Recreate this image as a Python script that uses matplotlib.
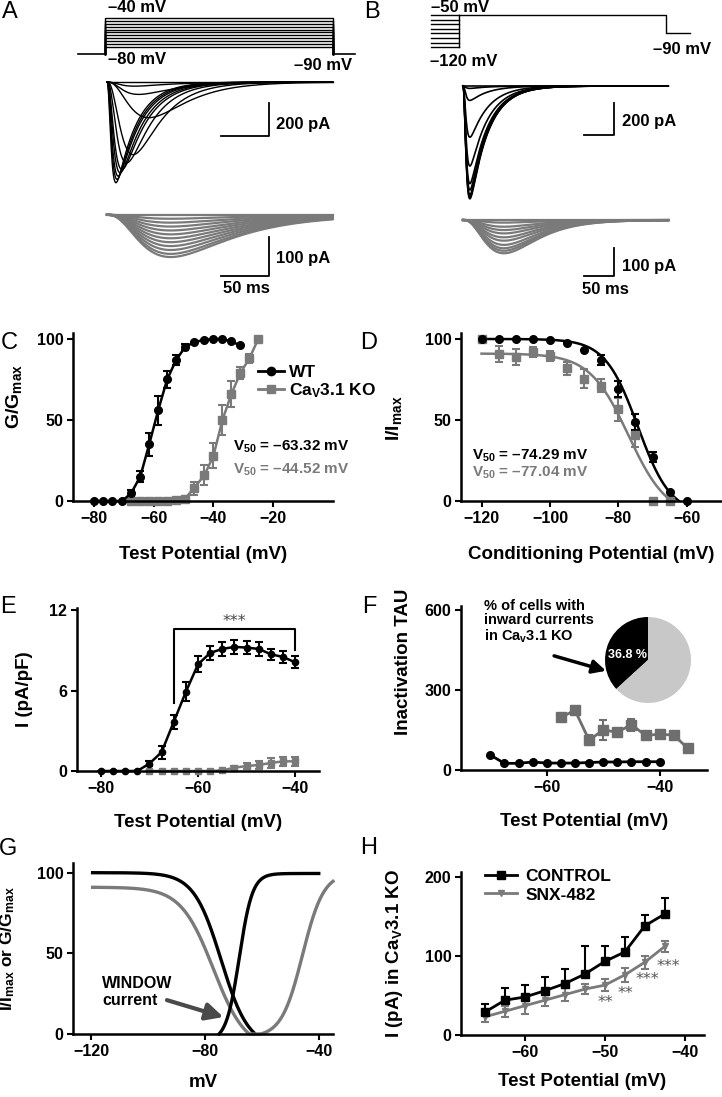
import numpy as np
import matplotlib
matplotlib.use('Agg')
import matplotlib.pyplot as plt
from matplotlib.lines import Line2D

plt.rcParams.update({
    'font.family': ['Liberation Sans', 'DejaVu Sans'],
    'font.weight': 'bold',
    'axes.labelweight': 'bold',
    'mathtext.fontset': 'custom',
    'mathtext.rm': 'Liberation Sans:bold',
    'mathtext.bf': 'Liberation Sans:bold',
    'mathtext.default': 'bf',
})

BLACK = '#000000'
GRAY = '#7a7a7a'
LIGHT = '#c8c8c8'

# ---------------- data ----------------
# A: activation protocol and currents (amplitudes in pA, kinetics in ms)
a_steps = [-80, -76, -72, -68, -64, -60, -56, -52, -48, -44, -40]
a_wt_amp = [0, 25, 75, 216, 440, 490, 530, 550, 570, 590, 610]
a_wt_tm = [12, 12, 15, 28, 14, 9, 6, 5, 4, 3.5, 3]
a_wt_th = [40, 40, 40, 35, 28, 26, 25, 24, 23, 22, 21]
a_ko_amp = [0, 10, 20, 30, 40, 50, 60, 70, 80, 90, 100, 108]
a_ko_tm, a_ko_th = 38, 60

# B: inactivation protocol and currents
b_cond = [-120, -110, -100, -90, -80, -70, -60, -50]
b_wt_amp = [0, 15, 90, 320, 500, 610, 650, 680, 695, 705]
b_wt_tm, b_wt_th = 3.5, 30
b_ko_amp = [0, 9.5, 24, 36, 48, 62, 74, 89, 101, 110, 119]
b_ko_tm, b_ko_th = 55, 45

# C: activation G/Gmax
c_x_wt = [-80, -77, -74, -70.5, -67.5, -64.5, -61.5, -58.5, -55.5, -52.5, -49.5, -46.5, -43, -40, -37, -34, -31]
c_wt = [0, 0, 0, 0, 5, 15, 35, 56, 75, 87, 95, 98, 99.5, 100, 100, 98.5, 96]
c_wt_err = [0, 0, 0, 0, 2, 3.5, 7, 9, 5, 3, 2, 0, 0, 0, 0, 0, 0]
c_x_ko = [-67.5, -64.5, -61.5, -58.5, -55.5, -52.5, -49.5, -46.5, -43, -40, -37, -34, -31, -28, -25]
c_ko = [0, 0, 0, 0, 0, 0.5, 1.5, 8, 16, 28, 50, 66, 79, 88, 100]
c_ko_err = [0, 0, 0, 0, 0, 1, 1.5, 4, 6, 7.5, 9, 8, 4, 3, 1]

# D: steady-state inactivation I/Imax
d_x_wt = [-120, -115, -110, -105, -100, -95, -90, -85, -80, -75, -70, -65, -60]
d_wt = [100, 100, 100, 100, 99.5, 97.5, 93, 87, 69, 49, 27, 5.5, 0]
d_wt_err = [0, 0, 0, 0, 0, 0, 0, 3, 5, 5, 3, 0, 0]
d_x_ko = [-120, -115, -110, -105, -100, -95, -90, -85, -80, -75, -70, -65]
d_ko = [100, 90.5, 89, 92, 89.5, 82, 75.5, 71, 56.5, 40.5, 0, 0]
d_ko_err = [0, 5, 5, 3, 3, 4, 6, 4, 7, 7, 0, 0]
# Boltzmann fit parameters: top, V50, slope, bottom
d_fit_wt = (100, -74.29, 4.8, -8.2)
d_fit_ko = (91, -77.04, 5.7, -10)
g_act_wt = (99.5, -67.9, 2.3, -4.5)
g_act_ko = (100, -45.7, 3.7, -1.9)

# E: current density
e_x_wt = [-80, -77.5, -75, -72.5, -70, -67.5, -65, -62.5, -60, -57.5, -55, -52.5, -50, -47.5, -45, -42.5, -40]
e_wt = [0, 0, 0, 0, 0.55, 1.4, 3.65, 5.9, 7.95, 8.8, 9.1, 9.25, 9.2, 9.1, 8.7, 8.5, 8.1]
e_wt_err = [0, 0, 0, 0, 0.2, 0.5, 0.55, 0.7, 0.6, 0.5, 0.5, 0.5, 0.5, 0.5, 0.4, 0.45, 0.45]
e_x_ko = [-70, -67.5, -65, -62.5, -60, -57.5, -55, -52.5, -50, -47.5, -45, -42.5, -40]
e_ko = [0, 0, 0, 0, 0, 0, 0.05, 0.25, 0.37, 0.45, 0.6, 0.72, 0.72]
e_ko_err = [0, 0, 0, 0, 0, 0, 0, 0.1, 0.25, 0.3, 0.35, 0.35, 0.35]

# F: inactivation tau
f_x_wt = [-70, -67.5, -65, -62.5, -60, -57.5, -55, -52.5, -50, -47.5, -45, -42.5, -40]
f_wt = [56, 25, 25, 30, 26, 26, 26, 28, 30, 30, 31, 31, 31]
f_x_ko = [-57.5, -55, -52.5, -50, -47.5, -45, -42.5, -40, -37.5, -35]
f_ko = [197, 224, 112, 150, 142, 170, 130, 134, 131, 81]
f_ko_err = [0, 0, 20, 37, 13, 22, 5, 10, 5, 0]
pie_vals = [36.8, 63.2]

# H: SNX-482
h_x = [-65, -62.5, -60, -57.5, -55, -52.5, -50, -47.5, -45, -42.5]
h_ctrl = [29, 44, 48, 56, 65, 77, 93, 105, 138, 153]
h_ctrl_err = [10, 16, 15, 17, 19, 35, 20, 19, 14, 20]
h_snx = [23, 30, 37, 44, 51, 58, 63, 76, 92, 112]
h_snx_err = [7, 7, 10, 7, 8, 6, 8, 9, 8, 7]

# ---------------- helpers ----------------
W, H = 722, 1097
fig = plt.figure(figsize=(W / 100, H / 100), dpi=100)


def px_axes(l, t, r, b):
    return fig.add_axes([l / W, 1 - b / H, (r - l) / W, (b - t) / H])


def ptext(x, y, s, **kw):
    kw.setdefault('va', 'center')
    kw.setdefault('fontsize', 12)
    fig.text(x / W, 1 - y / H, s, **kw)


def style(ax):
    for s in ['top', 'right']:
        ax.spines[s].set_visible(False)
    for s in ['left', 'bottom']:
        ax.spines[s].set_linewidth(1.8)
    ax.tick_params(width=1.5, length=4, labelsize=11.5, pad=3)


def shape(t, amp, tm, th):
    s = (1 - np.exp(-t / tm)) ** 3 * np.exp(-t / th)
    return -amp * s / s.max()


def inact(v, p):
    top, v50, k, bot = p
    return bot + (top - bot) / (1 + np.exp((v - v50) / k))


def act(v, p):
    top, v50, k, bot = p
    return bot + (top - bot) / (1 + np.exp((v50 - v) / k))


# ---------------- A ----------------
axAp = px_axes(70, 0, 360, 70)
axAp.set_xlim(-36.5, 265.6)
axAp.set_ylim(-111.7, -15.2)
axAp.axis('off')
axAp.plot([-28, 0], [-90, -90], color=BLACK, lw=1.2)
axAp.plot([237, 260], [-90, -90], color=BLACK, lw=1.2)
for lv in a_steps:
    axAp.plot([0, 0, 237, 237], [-90, lv, lv, -90], color=BLACK, lw=1.0)

ta = np.linspace(0, 235, 700)
axAw = px_axes(100, 70, 345, 200)
axAw.set_xlim(-7.3, 248)
axAw.set_ylim(-715, 73)
axAw.axis('off')
for amp, tm, th in zip(a_wt_amp, a_wt_tm, a_wt_th):
    axAw.plot(ta, shape(ta, amp, tm, th), color=BLACK, lw=1.0)
axAw.plot([119, 169, 169], [-327, -327, -127], color=BLACK, lw=1.3)

axAk = px_axes(100, 200, 345, 300)
axAk.set_xlim(-7.3, 248)
axAk.set_ylim(-218, 38)
axAk.axis('off')
for amp in a_ko_amp:
    axAk.plot(ta, shape(ta, amp, a_ko_tm, a_ko_th), color=GRAY, lw=1.6)
axAk.plot([119, 169, 169], [-156, -156, -56], color=BLACK, lw=1.3)

ptext(108, 8, '–40 mV')
ptext(108, 60, '–80 mV')
ptext(352, 65, '–90 mV', ha='right')
ptext(276, 124, '200 pA')
ptext(276, 258, '100 pA')
ptext(246, 288, '50 ms', ha='center')

# ---------------- B ----------------
axBp = px_axes(425, 0, 700, 70)
axBp.set_xlim(-56.7, 401.7)
axBp.set_ylim(-170, -17.2)
axBp.axis('off')
for lv in b_cond:
    axBp.plot([-47, 0], [lv, lv], color=BLACK, lw=1.0)
axBp.plot([0, 0], [-120, -50], color=BLACK, lw=1.0)
axBp.plot([0, 345, 345, 385], [-50, -50, -90, -90], color=BLACK, lw=1.0)

tb = np.linspace(0, 342, 800)
axBw = px_axes(455, 70, 700, 210)
axBw.set_xlim(-13.3, 395)
axBw.set_ylim(-775, 100)
axBw.axis('off')
for amp in b_wt_amp:
    axBw.plot(tb, shape(tb, amp, b_wt_tm, b_wt_th), color=BLACK, lw=1.2)
axBw.plot([202, 252, 252], [-306, -306, -106], color=BLACK, lw=1.3)

axBk = px_axes(455, 205, 700, 300)
axBk.set_xlim(-13.3, 395)
axBk.set_ylim(-286, 53.6)
axBk.axis('off')
for amp in b_ko_amp:
    axBk.plot(tb, shape(tb, amp, b_ko_tm, b_ko_th), color=GRAY, lw=1.6)
axBk.plot([202, 252, 252], [-200, -200, -100], color=BLACK, lw=1.3)

ptext(431, 8, '–50 mV')
ptext(430, 62, '–120 mV')
ptext(711, 50, '–90 mV', ha='right')
ptext(622, 122, '200 pA')
ptext(622, 266, '100 pA')
ptext(605, 290, '50 ms', ha='center')

# ---------------- C ----------------
axC = px_axes(73, 332.5, 333, 501)
style(axC)
axC.set_xlim(-87, 0)
axC.set_ylim(0, 104)
axC.errorbar(c_x_ko, c_ko, yerr=c_ko_err, fmt='s-', color=GRAY, ms=5.5, lw=1.8,
             elinewidth=1.5, capsize=3, capthick=1.5, clip_on=False)
axC.errorbar(c_x_wt, c_wt, yerr=c_wt_err, fmt='o-', color=BLACK, ms=5.5, lw=1.8,
             elinewidth=1.5, capsize=3, capthick=1.5, clip_on=False)
axC.set_xticks([-80, -60, -40, -20])
axC.set_yticks([0, 50, 100])
axC.set_xlabel('Test Potential (mV)', fontsize=13.5)
axC.set_ylabel('G/G$_{max}$', fontsize=14)
axC.yaxis.set_label_coords(-0.19, 0.62)
axC.xaxis.set_label_coords(0.5, -0.265)
axC.legend(handles=[Line2D([], [], color=BLACK, marker='o', ms=6, lw=2),
                    Line2D([], [], color=GRAY, marker='s', ms=6, lw=2)],
           labels=['WT', 'Ca$_{V}$3.1 KO'], loc='upper left', bbox_to_anchor=(0.71, 0.81),
           frameon=False, fontsize=12.5, handlelength=1.5, handletextpad=0.3,
           labelspacing=0.1, borderaxespad=0, borderpad=0)
axC.text(-33.4, 33.3, 'V$_{50}$ = –63.32 mV', color=BLACK, fontsize=11, va='center')
axC.text(-33.4, 19, 'V$_{50}$ = –44.52 mV', color=GRAY, fontsize=11, va='center')

# ---------------- D ----------------
axD = px_axes(461, 332.5, 721, 501)
style(axD)
axD.set_xlim(-126, -50)
axD.set_ylim(0, 104)
vv = np.linspace(-120, -55, 400)
for p, col in [(d_fit_ko, GRAY), (d_fit_wt, BLACK)]:
    yy = inact(vv, p)
    m = yy >= 0
    axD.plot(vv[m], yy[m], color=col, lw=1.8)
axD.errorbar(d_x_ko, d_ko, yerr=d_ko_err, fmt='s', color=GRAY, ms=5.5,
             elinewidth=1.5, capsize=3, capthick=1.5, clip_on=False)
axD.errorbar(d_x_wt, d_wt, yerr=d_wt_err, fmt='o', color=BLACK, ms=5.5,
             elinewidth=1.5, capsize=3, capthick=1.5, clip_on=False)
axD.set_xticks([-120, -100, -80, -60])
axD.set_yticks([0, 50, 100])
axD.set_xlabel('Conditioning Potential (mV)', fontsize=13.5)
axD.set_ylabel('I/I$_{max}$', fontsize=14)
axD.yaxis.set_label_coords(-0.22, 0.49)
axD.xaxis.set_label_coords(0.5, -0.265)
axD.text(-122.8, 27.8, 'V$_{50}$ = –74.29 mV', color=BLACK, fontsize=11, va='center')
axD.text(-122.8, 17.3, 'V$_{50}$ = –77.04 mV', color=GRAY, fontsize=11, va='center')

# ---------------- E ----------------
axE = px_axes(77, 608, 319, 771)
style(axE)
axE.set_xlim(-84.9, -35.1)
axE.set_ylim(0, 12.15)
axE.errorbar(e_x_ko, e_ko, yerr=e_ko_err, fmt='s-', color=GRAY, ms=4.5, lw=1.8,
             elinewidth=1.5, capsize=3, capthick=1.5, clip_on=False)
axE.errorbar(e_x_wt, e_wt, yerr=e_wt_err, fmt='o-', color=BLACK, ms=4.5, lw=1.8,
             elinewidth=1.5, capsize=3, capthick=1.5, clip_on=False)
axE.plot([-65, -65, -40, -40], [5.1, 10.55, 10.55, 9.05], color=BLACK, lw=1.5)
axE.text(-52.5, 11.15, '***', color='#444444', fontsize=11.5, ha='center', va='center',
         fontweight='normal', family='DejaVu Sans')
axE.set_xticks([-80, -60, -40])
axE.set_yticks([0, 6, 12])
axE.set_xlabel('Test Potential (mV)', fontsize=13.5)
axE.set_ylabel('I (pA/pF)', fontsize=13.5)
axE.yaxis.set_label_coords(-0.18, 0.5)
axE.xaxis.set_label_coords(0.5, -0.265)

# ---------------- F ----------------
axF = px_axes(461, 606, 707, 770)
style(axF)
axF.set_xlim(-75.2, -31.6)
axF.set_ylim(0, 615)
axF.errorbar(f_x_ko, f_ko, yerr=f_ko_err, fmt='s-', color='#6e6e6e', ms=6.5, lw=2,
             elinewidth=1.5, capsize=3, capthick=1.5, clip_on=False)
axF.plot(f_x_wt, f_wt, 'o-', color=BLACK, ms=5.5, lw=2, clip_on=False)
axF.set_xticks([-60, -40])
axF.set_yticks([0, 300, 600])
axF.set_xlabel('Test Potential (mV)', fontsize=13.5)
axF.set_ylabel('Inactivation TAU', fontsize=13.5)
axF.yaxis.set_label_coords(-0.2, 0.66)
axF.xaxis.set_label_coords(0.5, -0.265)
axF.text(-71.2, 555, '% of cells with\ninward currents\nin Ca$_{v}$3.1 KO', fontsize=10.5,
         va='center', ha='left', linespacing=1.05)
axF.annotate('', xy=(-49.5, 372), xytext=(-58.7, 428),
             arrowprops=dict(arrowstyle='-|>', lw=2.5, color=BLACK, mutation_scale=20,
                             shrinkA=0, shrinkB=0), annotation_clip=False)

axPie = px_axes(605, 617, 691, 703)
axPie.pie(pie_vals, colors=[BLACK, LIGHT], startangle=90, counterclock=True, radius=1)
axPie.set_xlim(-1, 1)
axPie.set_ylim(-1, 1)
axPie.set_aspect('equal')
ptext(627, 655, '36.8 %', color='white', fontsize=9, ha='center')

# ---------------- G ----------------
axG = px_axes(73, 863, 333, 1034)
style(axG)
axG.set_xlim(-126.3, -35)
axG.set_ylim(0, 106)
vg = np.linspace(-120, -35, 600)
for p, col in [(d_fit_ko, GRAY), (d_fit_wt, BLACK)]:
    yy = inact(vg, p)
    m = yy >= 0
    axG.plot(vg[m], yy[m], color=col, lw=2.4, solid_capstyle='butt')
vw = np.linspace(-75, -40, 300)
axG.plot(vw, np.clip(act(vw, g_act_wt), 0, None), color=BLACK, lw=2.4, clip_on=False)
vk = np.linspace(-64, -35, 300)
axG.plot(vk, np.clip(act(vk, g_act_ko), 0, None), color=GRAY, lw=2.4, clip_on=False)
axG.text(-116, 26, 'WINDOW\ncurrent', fontsize=11.5, va='center', ha='left', linespacing=1.15)
axG.annotate('', xy=(-73.5, 10.5), xytext=(-93.3, 21),
             arrowprops=dict(arrowstyle='-|>', lw=3, color='#4a4a4a', mutation_scale=26,
                             shrinkA=0, shrinkB=0))
axG.set_xticks([-120, -80, -40])
axG.set_yticks([0, 50, 100])
axG.set_xlabel('mV', fontsize=13.5)
axG.set_ylabel('I/I$_{max}$ or G/G$_{max}$', fontsize=12.5)
axG.yaxis.set_label_coords(-0.215, 0.5)
axG.xaxis.set_label_coords(0.5, -0.235)

# ---------------- H ----------------
axH = px_axes(461, 872, 704, 1035)
style(axH)
axH.set_xlim(-68, -37.6)
axH.set_ylim(0, 206)
axH.errorbar(h_x, h_snx, yerr=h_snx_err, fmt='v-', color=GRAY, ms=5, lw=2,
             elinewidth=1.5, capsize=3, capthick=1.5, clip_on=False)
axH.errorbar(h_x, h_ctrl, yerr=[np.zeros(len(h_ctrl_err)), h_ctrl_err], fmt='s-', color=BLACK,
             ms=6, lw=2, elinewidth=1.5, capsize=3, capthick=1.5, clip_on=False)
for x, y, s in [(-49.9, 40.5, '**'), (-47.4, 53, '**'), (-44.7, 70, '***'), (-42, 87, '***')]:
    axH.text(x, y, s, color='#555555', fontsize=11.5, ha='center', va='center',
             fontweight='normal', family='DejaVu Sans')
axH.legend(handles=[Line2D([], [], color=BLACK, marker='s', ms=6, lw=2),
                    Line2D([], [], color=GRAY, marker='v', ms=5, lw=2)],
           labels=['CONTROL', 'SNX-482'], loc='upper left', bbox_to_anchor=(0.1, 1.02),
           frameon=False, fontsize=12.5, handlelength=1.8, handletextpad=0.5,
           labelspacing=0.2, borderaxespad=0, borderpad=0)
axH.set_xticks([-60, -50, -40])
axH.set_yticks([0, 100, 200])
axH.set_xlabel('Test Potential (mV)', fontsize=13.5)
axH.set_ylabel('I (pA) in Ca$_{V}$3.1 KO', fontsize=13.5)
axH.yaxis.set_label_coords(-0.23, 0.5)
axH.xaxis.set_label_coords(0.5, -0.235)

# ---------------- panel letters ----------------
for x, y, s in [(10, 12, 'A'), (372, 12, 'B'), (9, 343, 'C'), (369, 343, 'D'),
                (8, 607, 'E'), (369, 607, 'F'), (8, 849, 'G'), (369, 848, 'H')]:
    ptext(x, y, s, fontsize=17, fontweight='normal', ha='center')

fig.savefig('out.png', dpi=100)
